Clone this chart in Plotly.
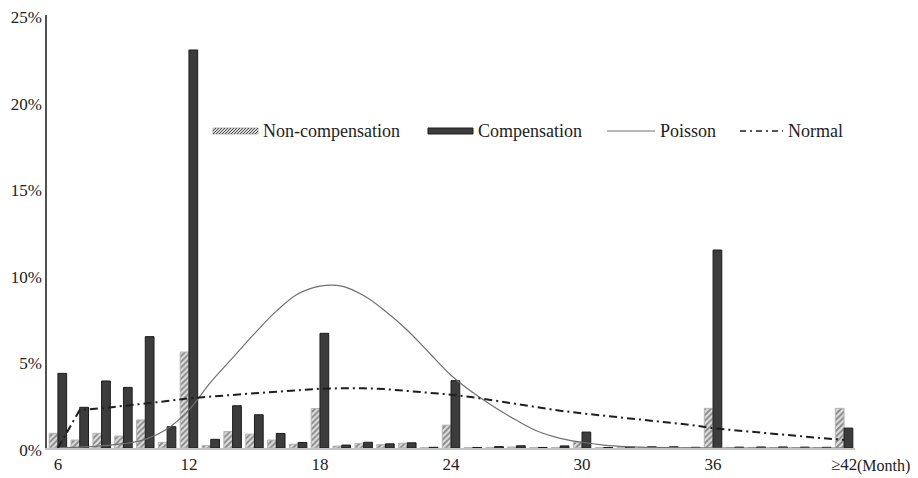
import plotly.graph_objects as go

# ---------------- data ----------------
months = [str(m) for m in range(6, 42)] + ["≥42"]

non_compensation = [0.85, 0.46, 0.85, 0.69, 1.62, 0.33, 5.54, 0.15, 0.95, 0.80,
                    0.46, 0.22, 2.28, 0.11, 0.27, 0.20, 0.28, 0.02, 1.32, 0.02,
                    0.02, 0.06, 0.02, 0.03, 0.35, 0.02, 0.02, 0.02, 0.02, 0.02,
                    2.29, 0.02, 0.02, 0.02, 0.02, 0.02, 2.29]

compensation = [4.31, 2.35, 3.87, 3.50, 6.43, 1.23, 22.98, 0.50, 2.44, 1.92,
                0.84, 0.32, 6.62, 0.17, 0.33, 0.24, 0.30, 0.04, 3.89, 0.03,
                0.08, 0.13, 0.03, 0.12, 0.92, 0.03, 0.06, 0.07, 0.07, 0.04,
                11.43, 0.05, 0.06, 0.06, 0.05, 0.04, 1.15]

poisson = [0.02, 0.05, 0.12, 0.25, 0.50, 1.10, 2.20, 3.80, 5.20, 6.60,
           7.90, 8.90, 9.35, 9.35, 8.80, 7.90, 6.80, 5.50, 4.20, 3.20,
           2.35, 1.60, 0.95, 0.56, 0.33, 0.17, 0.08, 0.04, 0.02, 0.01,
           0.0, 0.0, 0.0, 0.0, 0.0, 0.0, 0.0]

normal = [0.0, 2.20, 2.29, 2.42, 2.54, 2.71, 2.87, 2.98, 3.06, 3.16,
          3.25, 3.35, 3.42, 3.45, 3.45, 3.40, 3.30, 3.20, 3.08, 2.93,
          2.73, 2.52, 2.33, 2.15, 2.00, 1.87, 1.73, 1.60, 1.46, 1.33,
          1.14, 1.02, 0.90, 0.79, 0.68, 0.57, 0.47]

x_tick_labels = ["6", "12", "18", "24", "30", "36", "≥42"]
y_tick_values = [0, 5, 10, 15, 20, 25]
y_tick_labels = ["0%", "5%", "10%", "15%", "20%", "25%"]
legend_names = ["Non-compensation", "Compensation", "Poisson", "Normal"]

# ---------------- styling ----------------
FONT = "Liberation Serif"
TXT = "#222222"
OFF = 8                      # default page body margin
W, H = 918 - OFF, 478 - OFF
ML, MT = 47 - OFF, 15 - OFF  # plot area starts at page px (47, 15)
PW, PH = 808, 433
MR, MB = W - ML - PW, H - MT - PH


def px_x(p):
    return (p - OFF - ML) / PW


def px_y(p):
    return (MT + PH - (p - OFF)) / PH


fig = go.Figure()

fig.add_trace(go.Bar(
    x=months, y=non_compensation, name=legend_names[0], showlegend=False,
    marker=dict(color="#dcdcdc", line=dict(color="#b4b4b4", width=1),
                pattern=dict(shape="/", fgcolor="#2e2e2e", bgcolor="#dcdcdc",
                             size=4, solidity=0.45)),
))
fig.add_trace(go.Bar(
    x=months, y=compensation, name=legend_names[1], showlegend=False,
    marker=dict(color="#3c3c3c", line=dict(color="#1c1c1c", width=1)),
))
fig.add_trace(go.Scatter(
    x=months, y=poisson, name=legend_names[2], mode="lines", showlegend=False,
    line=dict(color="#707070", width=1.2, shape="spline", smoothing=1),
))
fig.add_trace(go.Scatter(
    x=months, y=normal, name=legend_names[3], mode="lines", showlegend=False,
    line=dict(color="#1e1e1e", width=2, dash="8px,4px,2px,4px"),
))

# ---------------- manual legend ----------------
shapes = []
ly = 131
# hatched swatch
hx0, hx1, hy0, hy1 = 213, 258, 128, 134
shapes.append(dict(type="rect", xref="paper", yref="paper",
                   x0=px_x(hx0), x1=px_x(hx1), y0=px_y(hy1), y1=px_y(hy0),
                   fillcolor="#dcdcdc", line=dict(color="#b4b4b4", width=1)))
s = hx0 - 6
while s < hx1:
    x0, y0, x1, y1 = s, hy1, s + 6, hy0
    if x0 < hx0:
        y0 = hy1 - (hx0 - x0)
        x0 = hx0
    if x1 > hx1:
        y1 = hy0 + (x1 - hx1)
        x1 = hx1
    shapes.append(dict(type="line", xref="paper", yref="paper",
                       x0=px_x(x0), x1=px_x(x1), y0=px_y(y0), y1=px_y(y1),
                       line=dict(color="#4a4a4a", width=1)))
    s += 3
# solid swatch
shapes.append(dict(type="rect", xref="paper", yref="paper",
                   x0=px_x(428), x1=px_x(473), y0=px_y(134), y1=px_y(128),
                   fillcolor="#3c3c3c", line=dict(color="#1c1c1c", width=1)))
# Poisson line swatch
shapes.append(dict(type="line", xref="paper", yref="paper",
                   x0=px_x(607), x1=px_x(655), y0=px_y(ly), y1=px_y(ly),
                   line=dict(color="#707070", width=1.2)))
# Normal line swatch
shapes.append(dict(type="line", xref="paper", yref="paper",
                   x0=px_x(740), x1=px_x(783), y0=px_y(ly), y1=px_y(ly),
                   line=dict(color="#1e1e1e", width=1.5, dash="6px,4px,2px,4px")))

annotations = []
for name, xpos in zip(legend_names, [261, 476, 658, 786]):
    annotations.append(dict(text=name, xref="paper", yref="paper",
                            x=px_x(xpos), y=px_y(ly), xanchor="left",
                            yanchor="middle", showarrow=False,
                            font=dict(family=FONT, size=18, color=TXT)))
annotations.append(dict(text="(Month)", xref="paper", yref="paper",
                        x=px_x(912), y=px_y(466), xanchor="right",
                        yanchor="middle", showarrow=False,
                        font=dict(family=FONT, size=16, color=TXT)))

fig.update_layout(
    width=W, height=H,
    margin=dict(l=ML, r=MR, t=MT, b=MB, pad=0, autoexpand=False),
    plot_bgcolor="white", paper_bgcolor="white",
    barmode="group", bargap=0.2, bargroupgap=0.0,
    font=dict(family=FONT, size=17, color=TXT),
    shapes=shapes, annotations=annotations,
    showlegend=False,
)
fig.update_xaxes(
    type="category", range=[-0.5, len(months) - 0.5], automargin=False,
    tickmode="array", tickvals=x_tick_labels, ticktext=x_tick_labels,
    showline=True, linecolor="#c4c4c4", linewidth=2,
    showgrid=False, zeroline=False, ticks="", ticklabeloverflow="allow",
    tickfont=dict(family=FONT, size=17, color=TXT),
)
fig.update_yaxes(
    range=[0, 25], automargin=False, tickmode="array",
    tickvals=y_tick_values, ticktext=y_tick_labels,
    showline=True, linecolor="#505050", linewidth=1.5,
    showgrid=False, zeroline=False, ticks="", ticklabeloverflow="allow",
    ticklabelshift=2,
    tickfont=dict(family=FONT, size=17, color=TXT),
)

fig.write_html("out.html")
